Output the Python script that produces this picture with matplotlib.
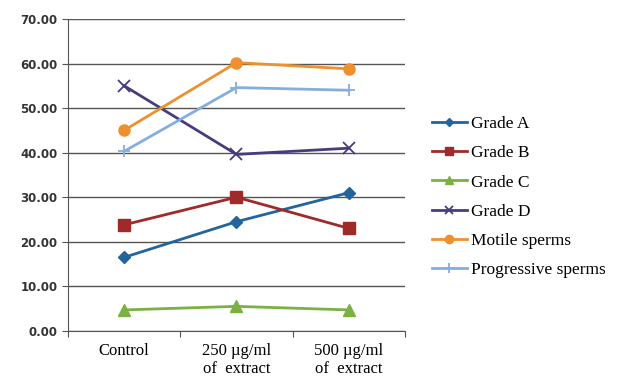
import numpy as np
import matplotlib.pyplot as plt

categories = ['Control', '250 µg/ml\nof  extract', '500 µg/ml\nof  extract']
grade_a = [16.5, 24.5, 31.0]
grade_b = [23.8, 30.0, 23.0]
grade_c = [4.7, 5.5, 4.7]
grade_d = [55.0, 39.6, 41.0]
motile = [45.0, 60.2, 58.8]
progressive = [40.3, 54.6, 54.0]

series = [
    ('Grade A', grade_a, '#23649c', 'D', 6),
    ('Grade B', grade_b, '#a02a2a', 's', 8),
    ('Grade C', grade_c, '#7bb043', '^', 8),
    ('Grade D', grade_d, '#4a3c7c', 'x', 8),
    ('Motile sperms', motile, '#ef9030', 'o', 8),
    ('Progressive sperms', progressive, '#86aedc', '+', 9),
]

fig = plt.figure(figsize=(6.24, 3.79), dpi=100)
ax = fig.add_axes([0.109, 0.127, 0.54, 0.823])

x = np.arange(len(categories))
for name, vals, color, marker, ms in series:
    ax.plot(x, vals, color=color, marker=marker, markersize=ms, linewidth=2,
            markeredgewidth=1.3 if marker in ('x', '+') else 1, label=name)

ax.set_xlim(-0.5, 2.5)
ax.set_ylim(0, 70)
ax.set_yticks(np.arange(0, 71, 10))
ax.set_yticklabels([f'{v:.2f}' for v in range(0, 71, 10)],
                   fontsize=8.5, fontweight='bold', color='#333333')
ax.yaxis.grid(True, color='#555555', linewidth=1)
ax.set_axisbelow(True)

# ticks at category boundaries, labels centred in between
ax.set_xticks([-0.5, 0.5, 1.5, 2.5])
ax.set_xticklabels([])
ax.set_xticks(x, minor=True)
ax.set_xticklabels(categories, minor=True, family='Liberation Serif', fontsize=12,
                   linespacing=1.15)
ax.tick_params(axis='x', which='minor', length=0, pad=9)
ax.tick_params(axis='x', which='major', length=4, direction='out', color='#555555')
ax.tick_params(axis='y', length=4, color='#555555')

for s in ['top', 'right']:
    ax.spines[s].set_visible(False)
for s in ['left', 'bottom']:
    ax.spines[s].set_color('#555555')

fig.legend(loc='center left', bbox_to_anchor=(0.667, 0.48), frameon=False,
           prop={'family': 'Liberation Serif', 'size': 12.5}, labelspacing=0.75,
           handlelength=2.0, handletextpad=0.25, markerscale=0.75)

fig.savefig('out.png', dpi=100)
